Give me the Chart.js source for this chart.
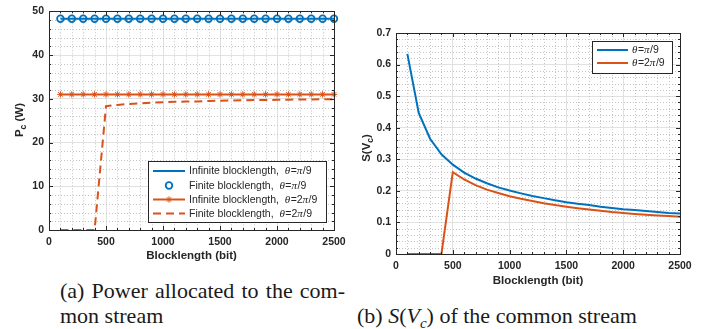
<!DOCTYPE html>
<html>
<head>
<meta charset="utf-8">
<script src="https://cdn.jsdelivr.net/npm/chart.js@4"></script>
<style>
body { margin: 0; background: #fff; width: 713px; height: 329px; position: relative; overflow: hidden; }
canvas { position: absolute; top: 0; }
#c1 { left: 0; }
#c2 { left: 355px; }
.cap { position: absolute; font-family: 'Liberation Serif', 'Times New Roman', serif; font-size: 22px; color: #1a1a1a; line-height: 25px; white-space: nowrap; }
#capA1 { left: 60px; top: 278px; width: 285px; text-align: justify; text-align-last: justify; white-space: normal; }
#capA2 { left: 60px; top: 303px; }
#capB { left: 357px; top: 303px; }
.sub { font-size: 15px; position: relative; top: 5px; font-style: italic; }
</style>
</head>
<body>
<canvas id="c1" width="355" height="265" style="width:355px;height:265px"></canvas>
<canvas id="c2" width="358" height="290" style="width:358px;height:290px"></canvas>
<div class="cap" id="capA1">(a) Power allocated to the com-</div>
<div class="cap" id="capA2">mon stream</div>
<div class="cap" id="capB">(b) <i>S</i>(<i>V</i><span class="sub">c</span>) of the common stream</div>
<script>
// Datos
const blockLen = [100, 200, 300, 400, 500, 600, 700, 800, 900, 1000, 1100, 1200, 1300,
    1400, 1500, 1600, 1700, 1800, 1900, 2000, 2100, 2200, 2300, 2400, 2500];

// (a) potencia del flujo común (W)
const pcInfPi9 = [48.3, 48.3, 48.3, 48.3, 48.3, 48.3, 48.3, 48.3, 48.3, 48.3, 48.3, 48.3, 48.3,
    48.3, 48.3, 48.3, 48.3, 48.3, 48.3, 48.3, 48.3, 48.3, 48.3, 48.3, 48.3];
const pcFinPi9 = [48.3, 48.3, 48.3, 48.3, 48.3, 48.3, 48.3, 48.3, 48.3, 48.3, 48.3, 48.3, 48.3,
    48.3, 48.3, 48.3, 48.3, 48.3, 48.3, 48.3, 48.3, 48.3, 48.3, 48.3, 48.3];
const pcInf2Pi9 = [31.0, 31.0, 31.0, 31.0, 31.0, 31.0, 31.0, 31.0, 31.0, 31.0, 31.0, 31.0, 31.0,
    31.0, 31.0, 31.0, 31.0, 31.0, 31.0, 31.0, 31.0, 31.0, 31.0, 31.0, 31.0];
const pcFin2Pi9 = [0, 0, 0, 0, 28.3, 28.6, 28.8, 28.95, 29.1, 29.2, 29.3, 29.35, 29.4,
    29.5, 29.55, 29.6, 29.65, 29.7, 29.72, 29.75, 29.8, 29.82, 29.85, 29.88, 29.9];

// (b) S(Vc)
const sPi9 = [0.634, 0.447, 0.365, 0.316, 0.283, 0.258, 0.239, 0.224, 0.211, 0.201, 0.192, 0.184, 0.177,
    0.170, 0.164, 0.159, 0.155, 0.150, 0.146, 0.142, 0.139, 0.136, 0.133, 0.130, 0.128];
const s2Pi9 = [0, 0, 0, 0, 0.259, 0.236, 0.218, 0.204, 0.193, 0.183, 0.175, 0.168, 0.161,
    0.155, 0.150, 0.145, 0.141, 0.137, 0.133, 0.130, 0.127, 0.124, 0.122, 0.120, 0.118];

const xTicksA = { min: 0, max: 2500, step: 500, minor: 100 };
const yTicksA = { min: 0, max: 50, step: 10, minor: 2 };
const xTicksB = { min: 0, max: 2500, step: 500, minor: 100 };
const yTicksB = { min: 0, max: 0.7, step: 0.1, minor: 0.02 };

const BLUE = '#0072BD';
const ORANGE = '#D95319';
const INK = '#262626';
const SANS = "'Liberation Sans', Arial, Helvetica, sans-serif";

const pts = arr => blockLen.map((b, i) => ({ x: b, y: arr[i] }));

// texto con letras griegas en cursiva (estilo TeX de MATLAB)
function drawMixed(ctx, text, x, y, size) {
    let cx = x;
    for (const ch of text) {
        const greek = /[θπ]/.test(ch);
        ctx.font = greek ? `italic ${size + 0.5}px 'Liberation Serif', serif` : `${size}px ${SANS}`;
        ctx.fillText(ch, cx, y);
        cx += ctx.measureText(ch).width + (greek ? 0.5 : 0);
    }
}

// etiqueta Y con subíndice, girada
function drawYTitle(ctx, parts, x, cy) {
    ctx.save();
    ctx.translate(x, cy);
    ctx.rotate(-Math.PI / 2);
    ctx.fillStyle = INK;
    ctx.textBaseline = 'middle';
    let total = 0;
    parts.forEach(p => {
        ctx.font = `bold ${p.sub ? 8.5 : 11.5}px ${SANS}`;
        total += ctx.measureText(p.t).width;
    });
    let px = -total / 2;
    parts.forEach(p => {
        ctx.font = `bold ${p.sub ? 8.5 : 11.5}px ${SANS}`;
        ctx.fillText(p.t, px, p.sub ? 4 : 0);
        px += ctx.measureText(p.t).width;
    });
    ctx.restore();
}

const matlabLook = {
    id: 'matlabLook',
    beforeDatasetsDraw(chart, args, opts) {
        const { ctx, chartArea: a, scales: { x, y } } = chart;
        ctx.save();
        ctx.strokeStyle = '#c4c4c4';
        ctx.lineWidth = 1;
        ctx.setLineDash([1, 2]);
        const nx = Math.round((opts.xt.max - opts.xt.min) / opts.xt.minor);
        const kx = Math.round(opts.xt.step / opts.xt.minor);
        for (let i = 1; i < nx; i++) {
            if (i % kx === 0) continue;
            const px = Math.round(x.getPixelForValue(opts.xt.min + i * opts.xt.minor)) + 0.5;
            ctx.beginPath(); ctx.moveTo(px, a.top); ctx.lineTo(px, a.bottom); ctx.stroke();
        }
        const ny = Math.round((opts.yt.max - opts.yt.min) / opts.yt.minor);
        const ky = Math.round(opts.yt.step / opts.yt.minor);
        for (let i = 1; i < ny; i++) {
            if (i % ky === 0) continue;
            const py = Math.round(y.getPixelForValue(opts.yt.min + i * opts.yt.minor)) + 0.5;
            ctx.beginPath(); ctx.moveTo(a.left, py); ctx.lineTo(a.right, py); ctx.stroke();
        }
        ctx.restore();
    },
    afterDatasetsDraw(chart, args, opts) {
        const { ctx, chartArea: a, scales: { x, y } } = chart;
        ctx.save();
        // caja y marcas hacia dentro
        ctx.strokeStyle = INK;
        ctx.lineWidth = 1;
        ctx.strokeRect(Math.round(a.left) + 0.5, Math.round(a.top) + 0.5,
            Math.round(a.right - a.left), Math.round(a.bottom - a.top));
        const nx = Math.round((opts.xt.max - opts.xt.min) / opts.xt.minor);
        const kx = Math.round(opts.xt.step / opts.xt.minor);
        for (let i = 0; i <= nx; i++) {
            const len = i % kx === 0 ? 4 : 2;
            const px = Math.round(x.getPixelForValue(opts.xt.min + i * opts.xt.minor)) + 0.5;
            ctx.beginPath();
            ctx.moveTo(px, a.bottom); ctx.lineTo(px, a.bottom - len);
            ctx.moveTo(px, a.top); ctx.lineTo(px, a.top + len);
            ctx.stroke();
        }
        const ny = Math.round((opts.yt.max - opts.yt.min) / opts.yt.minor);
        const ky = Math.round(opts.yt.step / opts.yt.minor);
        for (let i = 0; i <= ny; i++) {
            const len = i % ky === 0 ? 4 : 2;
            const py = Math.round(y.getPixelForValue(opts.yt.min + i * opts.yt.minor)) + 0.5;
            ctx.beginPath();
            ctx.moveTo(a.left, py); ctx.lineTo(a.left + len, py);
            ctx.moveTo(a.right, py); ctx.lineTo(a.right - len, py);
            ctx.stroke();
        }
        drawYTitle(ctx, opts.yTitle, opts.yTitleX, opts.yTitleY);

        // leyenda dentro del área
        const L = opts.legend;
        ctx.fillStyle = '#fff';
        ctx.fillRect(L.x, L.y, L.w, L.h);
        ctx.strokeStyle = INK;
        ctx.strokeRect(L.x + 0.5, L.y + 0.5, L.w, L.h);
        chart.data.datasets.forEach((ds, i) => {
            const ry = L.rows[i];
            ctx.strokeStyle = ds.borderColor;
            if (ds.showLine !== false) {
                ctx.lineWidth = ds.borderWidth;
                ctx.setLineDash(ds.borderDash || []);
                ctx.beginPath(); ctx.moveTo(L.sx0, ry); ctx.lineTo(L.sx1, ry); ctx.stroke();
                ctx.setLineDash([]);
            }
            if (ds.pointRadius > 0) {
                ctx.fillStyle = ds.pointBackgroundColor;
                ctx.lineWidth = ds.pointBorderWidth;
                Chart.helpers.drawPoint(ctx, {
                    pointStyle: ds.pointStyle, radius: ds.pointRadius,
                    borderWidth: ds.pointBorderWidth, rotation: 0
                }, (L.sx0 + L.sx1) / 2, ry);
            }
            ctx.fillStyle = INK;
            ctx.textBaseline = 'middle';
            drawMixed(ctx, ds.label, L.tx, ry + 0.5, 10.5);
        });
        ctx.restore();
    }
};

function axisOpts(t, yAxis, size) {
    const o = {
        type: 'linear',
        min: t.min,
        max: t.max,
        ticks: { stepSize: t.step, color: INK, font: { family: SANS, size: 10.5, weight: 'bold' },
                 padding: yAxis ? 5 : 6, maxRotation: 0, format: { useGrouping: false } },
        grid: { color: '#e1e1e1', drawTicks: false },
        border: { display: false }
    };
    if (yAxis) {
        o.afterFit = s => { s.width = size; };
    } else {
        o.title = { display: true, text: 'Blocklength (bit)', color: INK,
                    font: { family: SANS, size: 11.5, weight: 'bold' }, padding: { top: 0, bottom: 2 } };
        o.afterFit = s => { s.height = size; };
    }
    return o;
}

new Chart(document.getElementById('c1'), {
    type: 'line',
    data: {
        datasets: [
            { label: 'Infinite blocklength,  θ=π/9', data: pts(pcInfPi9), borderColor: BLUE,
              borderWidth: 2, pointRadius: 0 },
            { label: 'Finite blocklength,  θ=π/9', data: pts(pcFinPi9), borderColor: BLUE,
              showLine: false, pointStyle: 'circle', pointRadius: 3.3, pointBorderWidth: 1.8,
              pointBorderColor: BLUE, pointBackgroundColor: 'rgba(0,0,0,0)' },
            { label: 'Infinite blocklength,  θ=2π/9', data: pts(pcInf2Pi9), borderColor: ORANGE,
              borderWidth: 2, pointStyle: 'star', pointRadius: 3.2, pointBorderWidth: 1,
              pointBorderColor: ORANGE, pointBackgroundColor: ORANGE },
            { label: 'Finite blocklength,  θ=2π/9', data: pts(pcFin2Pi9), borderColor: ORANGE,
              borderWidth: 2, borderDash: [8, 5], pointRadius: 0 }
        ]
    },
    options: {
        responsive: false,
        animation: false,
        clip: false,
        layout: { padding: { top: 9, right: 21, left: 0, bottom: 0 } },
        elements: { line: { tension: 0 } },
        scales: { x: axisOpts(xTicksA, false, 35), y: axisOpts(yTicksA, true, 49) },
        plugins: {
            legend: { display: false },
            tooltip: { enabled: false },
            matlabLook: {
                xt: xTicksA, yt: yTicksA,
                yTitle: [{ t: 'P' }, { t: 'c', sub: true }, { t: ' (W)' }],
                yTitleX: 20, yTitleY: 120,
                legend: { x: 148, y: 161, w: 178, h: 61, rows: [171, 185.5, 199.5, 213.5],
                          sx0: 153, sx1: 185, tx: 189 }
            }
        }
    },
    plugins: [matlabLook]
});

new Chart(document.getElementById('c2'), {
    type: 'line',
    data: {
        datasets: [
            { label: 'θ=π/9', data: pts(sPi9), borderColor: BLUE, borderWidth: 2, pointRadius: 0 },
            { label: 'θ=2π/9', data: pts(s2Pi9), borderColor: ORANGE, borderWidth: 2, pointRadius: 0 }
        ]
    },
    options: {
        responsive: false,
        animation: false,
        layout: { padding: { top: 33, right: 33, left: 0, bottom: 0 } },
        elements: { line: { tension: 0 } },
        scales: { x: axisOpts(xTicksB, false, 36), y: axisOpts(yTicksB, true, 41) },
        plugins: {
            legend: { display: false },
            tooltip: { enabled: false },
            matlabLook: {
                xt: xTicksB, yt: yTicksB,
                yTitle: [{ t: 'S(V' }, { t: 'c', sub: true }, { t: ')' }],
                yTitleX: 12, yTitleY: 148,
                legend: { x: 237, y: 41, w: 80, h: 32, rows: [50, 63],
                          sx0: 242, sx1: 273, tx: 277 }
            }
        }
    },
    plugins: [matlabLook]
});
</script>
</body>
</html>
